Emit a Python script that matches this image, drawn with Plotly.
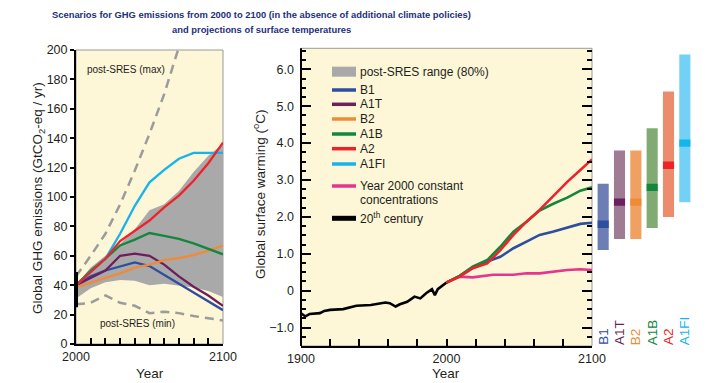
import plotly.graph_objects as go

# ---------------- data ----------------
em_years = [2000, 2010, 2020, 2030, 2040, 2050, 2060, 2070, 2080, 2090, 2100]
em_B1 = [40, 46, 50, 53, 55.5, 53, 47, 41, 35, 29.5, 23]
em_A1T = [40, 45, 50, 60, 61.5, 60, 54, 46, 39, 33, 26]
em_B2 = [38.5, 42, 45, 48, 52, 54, 57, 58.5, 60.5, 63.5, 67]
em_A1B = [40, 50, 58, 67, 71, 75.5, 73.5, 71.5, 68.5, 65, 61]
em_A2 = [40, 49, 58, 70, 77, 84, 93, 101, 111, 123, 137]
em_A1FI = [40, 49, 58, 75, 94, 110, 118.5, 126, 130, 130, 130]
em_range_low = [31, 38, 42, 43.5, 43, 40, 41, 40, 38.5, 36, 32]
em_range_high = [40, 52, 60, 68, 78, 91, 95, 104, 117, 128, 136]
em_max_years = [2000, 2010, 2020, 2030, 2040, 2050, 2060, 2070]
em_max = [46, 60, 75, 95, 118, 143, 170, 202]
em_min = [27, 28, 33, 28, 26, 21, 22, 21, 19, 17.5, 16]
em_2000_range = [25, 49]

t20_years = [1900, 1903, 1906, 1913, 1916, 1920, 1929, 1938, 1948, 1958, 1961,
             1965, 1968, 1973, 1978, 1982, 1986, 1990, 1992, 1994, 2000]
t20_vals = [-0.61, -0.70, -0.63, -0.61, -0.55, -0.52, -0.50, -0.41, -0.39, -0.32, -0.34,
            -0.43, -0.37, -0.30, -0.16, -0.21, -0.07, 0.04, -0.12, 0.04, 0.22]

tf_years = [2000, 2009, 2018, 2028, 2037, 2046, 2055, 2064, 2073, 2083, 2092, 2100]
t_A2 = [0.22, 0.38, 0.61, 0.74, 1.10, 1.51, 1.87, 2.19, 2.55, 2.95, 3.27, 3.56]
t_A1B = [0.22, 0.40, 0.65, 0.83, 1.19, 1.60, 1.87, 2.17, 2.35, 2.52, 2.71, 2.80]
t_B1 = [0.22, 0.40, 0.61, 0.79, 0.92, 1.15, 1.33, 1.51, 1.60, 1.72, 1.81, 1.84]
tc_years = [2000, 2009, 2018, 2032, 2046, 2055, 2064, 2073, 2083, 2092, 2100]
t_const = [0.22, 0.38, 0.36, 0.43, 0.43, 0.47, 0.47, 0.52, 0.56, 0.58, 0.56]

bar_labels = ["B1", "A1T", "B2", "A1B", "A2", "A1FI"]
bar_low = [1.1, 1.4, 1.4, 1.7, 2.0, 2.4]
bar_high = [2.9, 3.8, 3.8, 4.4, 5.4, 6.4]
bar_best = [1.8, 2.4, 2.4, 2.8, 3.4, 4.0]

legend_labels = ["post-SRES range (80%)", "B1", "A1T", "B2", "A1B", "A2", "A1FI",
                 "Year 2000 constant", "concentrations", "20<sup>th</sup> century"]

title_lines = ["<b>Scenarios for GHG emissions from 2000 to 2100 (in the absence of additional climate policies)</b>",
               "<b>and projections of surface temperatures</b>"]

# ---------------- styles ----------------
C = {"B1": "#2e4f9f", "A1T": "#6c1f5c", "B2": "#f08a38", "A1B": "#13873d",
     "A2": "#ee2329", "A1FI": "#14b4ec", "const": "#e5358f", "c20": "#000000",
     "range": "#a9a9a9", "dash": "#9b9b9b"}
LIGHT = {"B1": "#6d7db5", "A1T": "#a07b94", "B2": "#f0a060", "A1B": "#82ab74",
         "A2": "#eb8c6c", "A1FI": "#74d1f6"}
CREAM = "#fdf6d7"
TXT = "#231f20"
FONT = "Liberation Sans, Arial, sans-serif"

W, H = 711, 383
OFF = 8  # page body margin compensation
def px(x):
    return (x - OFF) / W
def py(y):
    return 1 - (y - OFF) / H

L_X0, L_X1, L_Y0, L_Y1 = 76, 223, 50, 344
R_X0, R_X1, R_Y0, R_Y1 = 301, 592, 48.3, 346

fig = go.Figure()

# ---- left panel: emissions ----
fig.add_trace(go.Scatter(x=em_years, y=em_range_low, mode="lines", line=dict(width=0),
                         showlegend=False, hoverinfo="skip", xaxis="x", yaxis="y"))
fig.add_trace(go.Scatter(x=em_years, y=em_range_high, mode="lines", line=dict(width=0),
                         fill="tonexty", fillcolor=C["range"], showlegend=False,
                         xaxis="x", yaxis="y"))
fig.add_trace(go.Scatter(x=em_max_years, y=em_max, mode="lines",
                         line=dict(color=C["dash"], width=2.5, dash="9px,6px"),
                         showlegend=False, xaxis="x", yaxis="y"))
fig.add_trace(go.Scatter(x=em_years, y=em_min, mode="lines",
                         line=dict(color=C["dash"], width=2.5, dash="9px,6px"),
                         showlegend=False, xaxis="x", yaxis="y"))
for name, vals in [("B1", em_B1), ("A1T", em_A1T), ("B2", em_B2), ("A1B", em_A1B),
                   ("A1FI", em_A1FI), ("A2", em_A2)]:
    fig.add_trace(go.Scatter(x=em_years, y=vals, mode="lines", name=name,
                             line=dict(color=C[name], width=2.3),
                             showlegend=False, xaxis="x", yaxis="y"))
fig.add_trace(go.Scatter(x=[2000, 2000], y=em_2000_range, mode="lines",
                         line=dict(color="black", width=4), cliponaxis=False,
                         showlegend=False, xaxis="x", yaxis="y"))

# ---- right panel: temperatures ----
fig.add_trace(go.Scatter(x=t20_years, y=t20_vals, mode="lines",
                         line=dict(color=C["c20"], width=2.6),
                         showlegend=False, xaxis="x2", yaxis="y2"))
fig.add_trace(go.Scatter(x=tc_years, y=t_const, mode="lines",
                         line=dict(color=C["const"], width=2.6),
                         showlegend=False, xaxis="x2", yaxis="y2"))
for name, vals in [("B1", t_B1), ("A1B", t_A1B), ("A2", t_A2)]:
    fig.add_trace(go.Scatter(x=tf_years, y=vals, mode="lines",
                             line=dict(color=C[name], width=2.6),
                             showlegend=False, xaxis="x2", yaxis="y2"))

# ---- bars panel ----
idx = list(range(len(bar_labels)))
fig.add_trace(go.Bar(x=idx, y=[h - l for h, l in zip(bar_high, bar_low)], base=bar_low,
                     width=0.68, marker=dict(color=[LIGHT[k] for k in bar_labels],
                                             line=dict(width=0)),
                     showlegend=False, xaxis="x3", yaxis="y3"))
fig.add_trace(go.Bar(x=idx, y=[0.2] * len(idx), base=[b - 0.1 for b in bar_best],
                     width=0.68, marker=dict(color=[C[k] for k in bar_labels],
                                             line=dict(width=0)),
                     showlegend=False, xaxis="x3", yaxis="y3"))

tickfont = dict(family=FONT, size=12.5, color=TXT)
shapes = []
annotations = []

# panel backgrounds and borders (paper coordinates)
for x0, x1, y0, y1 in [(L_X0, L_X1, L_Y0, L_Y1), (R_X0, R_X1, R_Y0, R_Y1)]:
    shapes.append(dict(type="rect", xref="paper", yref="paper",
                       x0=px(x0), x1=px(x1), y0=py(y1), y1=py(y0), fillcolor=CREAM,
                       line=dict(color="#9a9a9a", width=1), layer="below"))
shapes.append(dict(type="line", xref="paper", yref="paper", x0=px(R_X0), x1=px(R_X0),
                   y0=py(R_Y1), y1=py(R_Y0), line=dict(color="black", width=2)))

# legend (drawn manually)
leg_y = [71.7, 90, 104.3, 119, 134, 148.7, 164, 186, 200, 218.3]
leg_col = [C["range"], C["B1"], C["A1T"], C["B2"], C["A1B"], C["A2"], C["A1FI"],
           C["const"], None, C["c20"]]
for i, (lab, yy, col) in enumerate(zip(legend_labels, leg_y, leg_col)):
    if i == 0:
        shapes.append(dict(type="rect", xref="paper", yref="paper",
                           x0=px(332), x1=px(356), y0=py(yy + 5), y1=py(yy - 5),
                           fillcolor=col, line=dict(width=0)))
    elif col is not None:
        shapes.append(dict(type="line", xref="paper", yref="paper",
                           x0=px(332), x1=px(356), y0=py(yy), y1=py(yy),
                           line=dict(color=col, width=5 if i == 9 else 3.5)))
    annotations.append(dict(text=lab, xref="paper", yref="paper", x=px(358), y=py(yy),
                            xanchor="left", yanchor="middle", showarrow=False,
                            font=dict(family=FONT, size=12, color=TXT)))

# bar labels
for i, lab in enumerate(bar_labels):
    annotations.append(dict(text=lab, xref="x3", yref="y3", x=i, y=-1.5, textangle=-90,
                            xanchor="center", yanchor="bottom", showarrow=False,
                            borderpad=0, font=dict(family=FONT, size=13.5, color=C[lab])))

def note(text, x, y, size, angle=0, color=TXT, family=FONT):
    return dict(text=text, xref="paper", yref="paper", x=px(x), y=py(y),
                xanchor="center", yanchor="middle", textangle=angle, showarrow=False,
                font=dict(family=family, size=size, color=color))

annotations += [
    note("post-SRES (max)", 126, 69.5, 10),
    note("post-SRES (min)", 137, 323.5, 10),
    note("Global GHG emissions (GtCO<sub>2</sub>-eq / yr)", 38, 198, 13.5, angle=-90),
    note("Global surface warming (<sup>o</sup>C)", 259, 194, 13.5, angle=-90),
    note("Year", 149.5, 373, 13.5),
    note("Year", 446, 373, 13.5),
    note(title_lines[0], 261, 14.5, 9.4, color="#1d2f7d"),
    note(title_lines[1], 261, 29.5, 9.4, color="#1d2f7d"),
]

fig.update_layout(
    width=W, height=H, margin=dict(l=0, r=0, t=0, b=0, autoexpand=False),
    paper_bgcolor="white", plot_bgcolor="rgba(0,0,0,0)",
    barmode="overlay", showlegend=False,
    xaxis=dict(domain=[px(L_X0), px(L_X1)], range=[2000, 2100], anchor="y",
               tickvals=em_years, ticktext=["2000"] + [""] * 9 + ["2100"],
               ticks="inside", ticklen=6, tickwidth=2, tickcolor="black",
               showline=True, linecolor="black", linewidth=2, showgrid=False,
               zeroline=False, tickfont=tickfont, automargin=False),
    yaxis=dict(domain=[py(L_Y1), py(L_Y0)], range=[0, 200], anchor="x",
               tickvals=list(range(0, 201, 20)), ticks="outside", ticklen=4, tickwidth=2,
               tickcolor="black", showline=True, linecolor="black", linewidth=2,
               showgrid=False, zeroline=False, tickfont=tickfont, automargin=False),
    xaxis2=dict(domain=[px(R_X0), px(R_X1)], range=[1900, 2100], anchor="y2",
                tickvals=[1900, 1920, 1940, 1960, 1980, 2000, 2020, 2040, 2060, 2080, 2100],
                ticktext=["1900", "", "", "", "", "2000", "", "", "", "", "2100"],
                ticks="inside", ticklen=7, tickwidth=2, tickcolor="black",
                showline=True, linecolor="black", linewidth=2, showgrid=False,
                zeroline=False, tickfont=tickfont, automargin=False),
    yaxis2=dict(domain=[py(R_Y1), py(R_Y0)], range=[-1.5, 6.57], anchor="x2",
                tickvals=[-1, 0, 1, 2, 3, 4, 5, 6],
                ticktext=["\u22121.0", "0", "1.0", "2.0", "3.0", "4.0", "5.0", "6.0"],
                ticks="inside", ticklen=10, tickwidth=2, tickcolor="black",
                mirror="ticks", showline=False, showgrid=False, zeroline=False,
                ticklabelstandoff=6, automargin=False,
                minor=dict(dtick=0.25, tick0=0, ticks="inside", ticklen=5, tickwidth=1.5,
                           tickcolor="black", showgrid=False),
                tickfont=tickfont),
    xaxis3=dict(domain=[px(595), px(693)], range=[-0.5, 5.5], anchor="y3", visible=False),
    yaxis3=dict(domain=[py(R_Y1), py(R_Y0)], range=[-1.5, 6.57], anchor="x3", visible=False),
    shapes=shapes, annotations=annotations,
)

fig.write_html("out.html")
